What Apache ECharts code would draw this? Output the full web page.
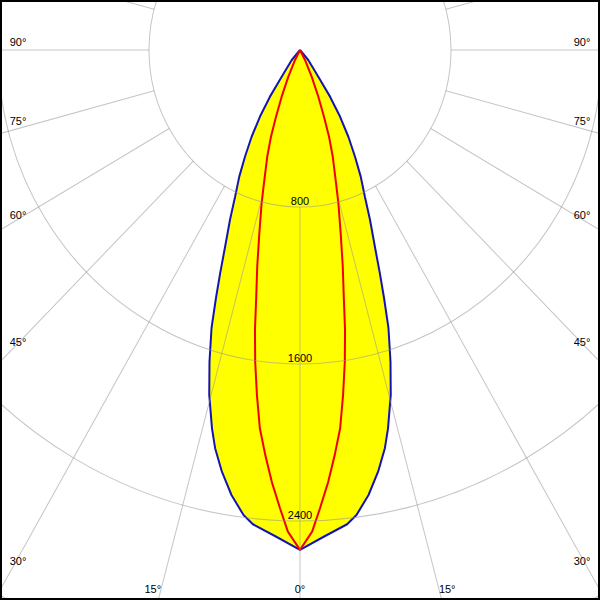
<!DOCTYPE html>
<html>
<head>
<meta charset="utf-8">
<script src="https://cdn.jsdelivr.net/npm/echarts@6/dist/echarts.min.js"></script>
<style>
html,body{margin:0;padding:0;background:#fff;}
#wrap{position:relative;width:600px;height:600px;overflow:hidden;background:#fff;}
#chart{position:absolute;left:0;top:0;width:600px;height:577px;transform-origin:0 0;}
#frame{position:absolute;left:0;top:0;width:600px;height:600px;box-sizing:border-box;border:2px solid #000;pointer-events:none;}
</style>
</head>
<body>
<div id="wrap"><div id="chart"></div><div id="frame"></div></div>
<script>
// ---- data (gamma in degrees, luminous intensity in cd) ----
const blueGamma = [0, 2.9, 5.9, 7.2, 9.1, 10.9, 12.5, 13.6, 15.3, 16.8, 18.3, 19.4, 20.4, 21.6, 23.2, 24.7, 26.5, 28.2, 30.1, 32.0, 33.8, 35.5, 40.8, 90];
const blueCd    = [2547, 2483, 2429, 2388, 2296, 2188, 2078, 1983, 1822, 1659, 1493, 1341, 1214, 1078, 942, 823, 721, 617, 511, 400, 286, 167, 67, 0];
const redGamma  = [0, 1.5, 2.6, 3.9, 5.1, 6.3, 7.4, 8.5, 9.5, 10.4, 11.6, 13.0, 14.6, 15.7, 17.7, 19.2, 20.5, 22.2, 24.5, 27.5, 90];
const redCd     = [2547, 2455, 2337, 2204, 2071, 1939, 1772, 1606, 1446, 1286, 1127, 958, 807, 706, 571, 468, 363, 257, 150, 57, 0];
const ringValues  = [800, 1600, 2400, 3200];
const angleLabels = [0, 15, 30, 45, 60, 75, 90];

// ---- layout ----
const W = 600, H_IMG = 600, H_CHART = 577;
const STRETCH = H_IMG / H_CHART;
document.getElementById('chart').style.transform = 'scaleY(' + STRETCH + ')';
const CX = 300, CY = 50 / STRETCH;
const PX_PER_CD = 151 / 800;
const R_MAX = ringValues[ringValues.length - 1];
const R_OUT = R_MAX * PX_PER_CD;
const R_IN = ringValues[0] * PX_PER_CD;
const STEP = ringValues[1] - ringValues[0];
const FONT_FAMILY = '"Liberation Sans", Arial, sans-serif';
const GRID_COLOR = 'rgba(150,150,150,0.55)';

function curve(g, v) {
  const pts = [];
  for (let i = g.length - 1; i >= 0; i--) pts.push([v[i], g[i]]);
  for (let i = 1; i < g.length; i++) pts.push([v[i], 360 - g[i]]);
  return pts;
}

function txt(x, y, s, align) {
  return {
    type: 'text', x: x, y: y, z: 100, silent: true,
    style: { text: s, fill: '#000', font: '11px ' + FONT_FAMILY, align: align, verticalAlign: 'middle' }
  };
}

const graphics = [];
const bottomY = 589 / STRETCH;
const sideX = 18;
angleLabels.forEach(function (a) {
  const rad = a * Math.PI / 180;
  const s = a + '°';
  const dxBottom = (bottomY - CY) * Math.tan(rad);
  if (dxBottom < CX - sideX) {
    if (a === 0) graphics.push(txt(CX, bottomY, s, 'center'));
    else {
      graphics.push(txt(CX - dxBottom, bottomY, s, 'right'));
      graphics.push(txt(CX + dxBottom, bottomY, s, 'left'));
    }
  } else {
    const y = CY + (CX - sideX) * Math.cos(rad) / Math.sin(rad) + (-1 + 7.3 * Math.cos(2 * rad)) / STRETCH;
    graphics.push(txt(sideX, y, s, 'center'));
    graphics.push(txt(W - sideX, y, s, 'center'));
  }
});

const chart = echarts.init(document.getElementById('chart'), null, { renderer: 'svg' });
chart.setOption({
  animation: false,
  backgroundColor: '#fff',
  polar: [
    { center: [CX, CY], radius: [R_IN, R_OUT] },
    { center: [CX, CY], radius: [0, R_OUT] }
  ],
  angleAxis: [
    {
      polarIndex: 0, type: 'value', min: 0, max: 360, interval: 15,
      startAngle: -90, clockwise: true, z: 10,
      axisLine: { show: false }, axisTick: { show: false }, axisLabel: { show: false },
      splitLine: { show: true, lineStyle: { color: GRID_COLOR, width: 1 } }
    },
    {
      polarIndex: 1, type: 'value', min: 0, max: 360,
      startAngle: -90, clockwise: true, show: false
    }
  ],
  radiusAxis: [
    {
      polarIndex: 0, type: 'value', min: ringValues[0], max: R_MAX, interval: STEP, z: 10,
      axisLine: { show: false }, axisTick: { show: false },
      axisLabel: {
        show: true, margin: 0, align: 'center', verticalAlign: 'bottom',
        fontSize: 11, fontFamily: FONT_FAMILY, color: '#000',
        formatter: function (v) { return v >= R_MAX ? '' : String(v); }
      },
      splitLine: { show: true, lineStyle: { color: GRID_COLOR, width: 1 } }
    },
    { polarIndex: 1, type: 'value', min: 0, max: R_MAX, show: false }
  ],
  series: [
    {
      type: 'line', coordinateSystem: 'polar', polarIndex: 1, z: 2,
      data: curve(blueGamma, blueCd), symbol: 'none', smooth: false,
      lineStyle: { color: '#1414b4', width: 2 },
      areaStyle: { color: '#ffff00', opacity: 1 }
    },
    {
      type: 'line', coordinateSystem: 'polar', polarIndex: 1, z: 3,
      data: curve(redGamma, redCd), symbol: 'none', smooth: false,
      lineStyle: { color: '#f00000', width: 2 }
    }
  ],
  graphic: graphics
});
</script>
</body>
</html>
